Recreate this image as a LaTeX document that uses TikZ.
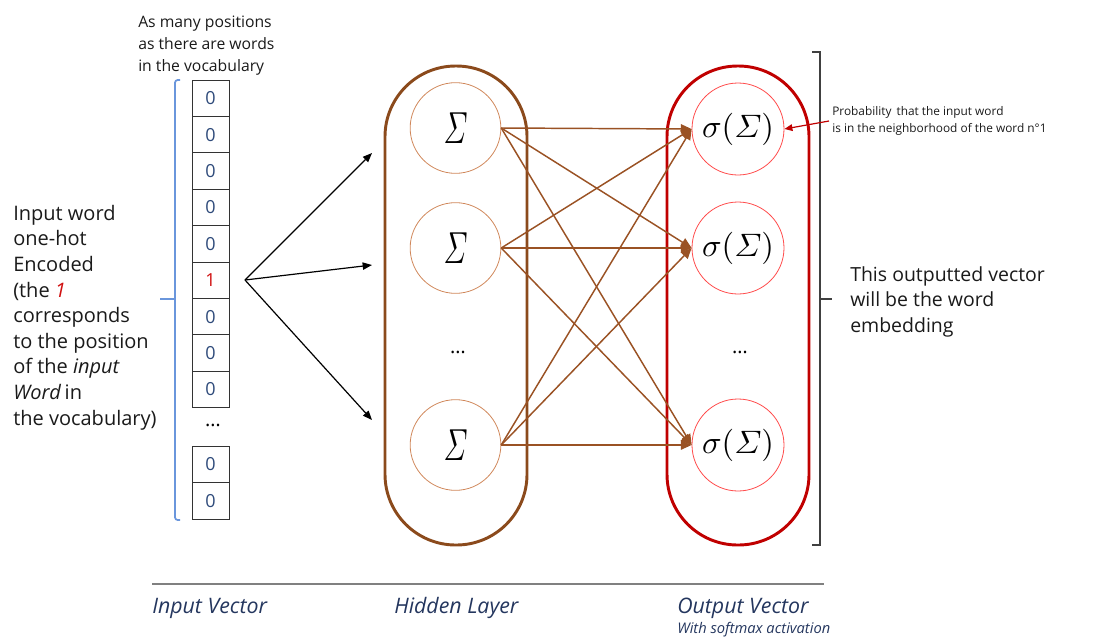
\documentclass[tikz,border=0pt]{standalone}
\usepackage{fontspec}
\usepackage{amsmath}
\usepackage{graphicx}
\setmainfont{Open Sans}
\usetikzlibrary{arrows.meta}
\definecolor{navy}{HTML}{2E4A7A}
\definecolor{labblue}{HTML}{24365E}
\definecolor{hotred}{HTML}{D01010}
\definecolor{capbrown}{HTML}{8B4A1C}
\definecolor{connbrown}{HTML}{9A5224}
\definecolor{hcirc}{HTML}{D0875A}
\definecolor{capred}{HTML}{C00000}
\definecolor{ocirc}{HTML}{FF4B4B}
\definecolor{brblue}{HTML}{6A96DC}
\definecolor{txt}{HTML}{1A1A1A}
\newcommand{\hsig}{\resizebox{18pt}{23pt}{$\varSigma$}}
\newcommand{\osig}{\resizebox{54pt}{!}{$\sigma(\varSigma)$}}
\begin{document}
\begin{tikzpicture}[x=0.75pt,y=-0.75pt,
  cell/.style={draw=black!80,line width=0.6pt,minimum width=27.75pt,minimum height=27.3pt,inner sep=0pt,outer sep=0pt,text=navy,font=\fontsize{13.5}{15}\selectfont},
  hnode/.style={circle,draw=hcirc,line width=0.6pt,minimum size=68pt,inner sep=0pt},
  onode/.style={circle,draw=ocirc,line width=0.6pt,minimum size=69pt,inner sep=0pt},
  capsule/.style={line width=2.2pt,rounded corners=53pt},
  conn/.style={draw=connbrown,line width=1.1pt,-{Triangle[length=8pt,width=7pt]}},
  inarrow/.style={draw=black,line width=0.9pt,-{Triangle[length=7pt,width=5.5pt]}},
  body/.style={inner sep=0pt,anchor=base west,align=left,text=txt},
  axislab/.style={inner sep=0pt,anchor=base west,text=labblue,font=\fontsize{16}{18}\selectfont\itshape},
  dots/.style={inner sep=0pt,font=\fontsize{15}{17}\selectfont}
]
\useasboundingbox (0,0) rectangle (1095,636);

% top note (anchor base = last line)
\node[body,font=\fontsize{11.8}{16.5}\selectfont] (topnote) at (138,71) {As many positions\\as there are words\\in the vocabulary};

% input vector cells
\foreach \i in {1,...,9}
  \node[cell] (c\i) at (210.5,{61.8+36.4*\i}) {\ifnum\i=6 \textcolor{hotred}{1}\else 0\fi};
\node[dots] (cdots) at (213,425) {\dots};
\node[cell] (c10) at (210.5,464.5) {0};
\node[cell] (c11) at (210.5,501) {0};

% blue bracket
\draw[brblue,line width=1.3pt,rounded corners=2pt] (180,80) -- (175,80) -- (175,520) -- (180,520);
\draw[brblue,line width=1.3pt] (175,299) -- (160,299);

% left text
\node[body,font=\fontsize{15}{19.2}\selectfont] (intext) at (13,425)
 {Input word\\one-hot\\Encoded\\(the \textcolor{hotred}{\itshape 1}\\corresponds\\to the position\\of the \textit{input}\\\textit{Word}\,in\\the vocabulary)};

% black arrows
\coordinate (src) at (245,280);
\coordinate (e1) at (372,153);
\coordinate (e2) at (372,265);
\coordinate (e3) at (372,420);
\foreach \k in {1,2,3} \draw[inarrow] (src) -- (e\k);

% capsules
\draw[capsule,capbrown] (385,66) rectangle (527,545);
\draw[capsule,capred] (667,66) rectangle (809,545);

% hidden nodes
\node[hnode] (h1) at (455.5,128) {\hsig};
\node[hnode] (h2) at (455.5,248) {\hsig};
\node[hnode] (h3) at (455.5,445) {\hsig};
\node[dots] (hdots) at (458,352) {\dots};

% output nodes
\node[onode] (o1) at (738,129) {\osig};
\node[onode] (o2) at (738,248) {\osig};
\node[onode] (o3) at (738,445) {\osig};
\node[dots] (odots) at (740,352) {\dots};

% connections
\foreach \a in {1,2,3}
  \foreach \b in {1,2,3}
    \draw[conn] (h\a.east) -- (o\b.west);

% right bracket
\draw[black!75,line width=1.5pt] (812,52) -- (820,52) -- (820,545) -- (812,545);
\draw[black!75,line width=1.5pt] (820,299) -- (832,299);

% probability note
\node[body,font=\fontsize{8.9}{12.7}\selectfont] (prob) at (832,132) {Probability\, that the input word\\is in the neighborhood of the word n°1};
\draw[capred,line width=0.9pt,-{Triangle[length=6pt,width=5pt]}] (829,121) -- (o1.east);

% right text
\node[body,font=\fontsize{14.6}{19.1}\selectfont] (embtext) at (850,332) {This outputted vector\\will be the word\\embedding};

% axis line and labels
\coordinate (axl) at (152,584);
\coordinate (axr) at (824,584);
\draw[black!50,line width=1.5pt] (axl) -- (axr);
\node[axislab] (lin) at (152,613) {Input Vector};
\node[axislab] (lhid) at (394,613) {Hidden Layer};
\node[axislab] (lout) at (677,613) {Output Vector};
\node[axislab,font=\fontsize{11}{12}\selectfont\itshape] (lsoft) at (677,633) {With softmax activation};
\end{tikzpicture}
\end{document}
